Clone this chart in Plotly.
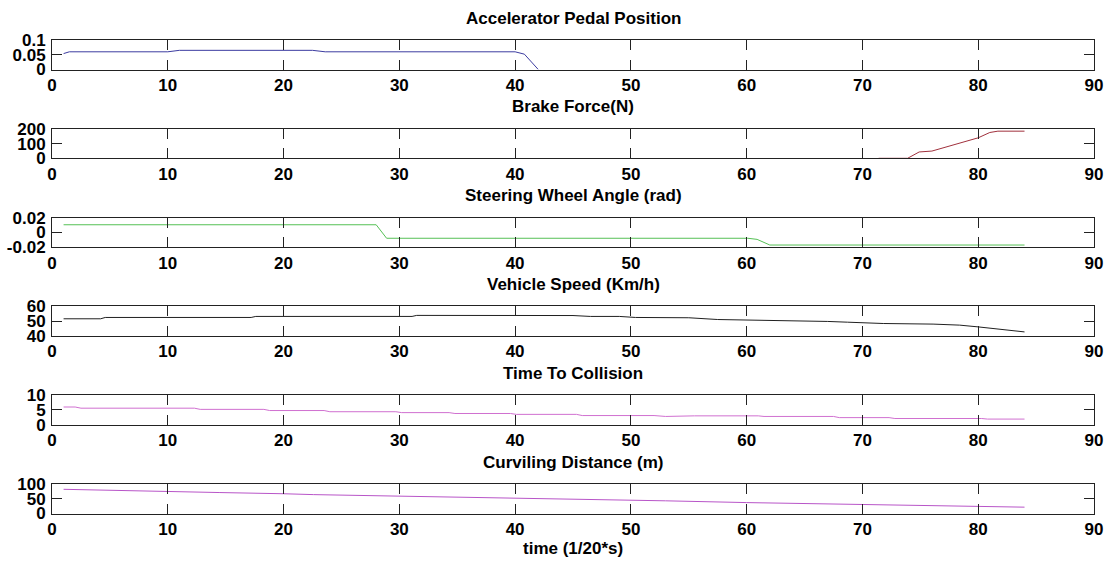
import plotly.graph_objects as go

# time axis ticks shared by all panels
x_ticks = [0, 10, 20, 30, 40, 50, 60, 70, 80, 90]

# Accelerator Pedal Position
t_pedal = [1, 1.5, 10, 11, 22.5, 23.6, 40, 40.8, 42]
pedal = [0.054, 0.060, 0.060, 0.065, 0.065, 0.060, 0.060, 0.052, 0.0]

# Brake Force(N)
t_brake = [71.4, 73.9, 74.9, 76, 80, 81, 81.7, 84]
brake = [0, 0, 43, 49, 139, 175, 184, 184]

# Steering Wheel Angle (rad)
t_steer = [1, 28, 28.9, 60.1, 60.9, 62, 84]
steer = [0.0103, 0.0103, -0.008, -0.008, -0.0095, -0.0172, -0.0172]

# Vehicle Speed (Km/h)
t_speed = [1, 4.2, 4.6, 17.2, 17.6, 31.1, 31.5, 45, 46.5, 49, 50.4, 55, 57.5,
           61, 64.5, 67, 68.7, 71.8, 76.1, 78.4, 80, 84]
speed = [51.6, 51.6, 52.5, 52.5, 53.2, 53.2, 53.9, 53.8, 53.2, 53.2, 52.5, 52.3,
         51.1, 50.8, 50.2, 49.8, 49.3, 48.4, 48.0, 47.3, 46.1, 42.7]

# Time To Collision
t_ttc = [1, 2, 2.5, 12.3, 12.8, 18.3, 18.8, 23.5, 24, 29.7, 30.2, 34.3, 34.8,
         39.6, 40.1, 45.3, 45.8, 52, 53, 55.5, 61, 61.5, 67.5, 68, 72.3, 72.8,
         80.3, 80.8, 84]
ttc = [6.0, 6.0, 5.6, 5.6, 5.2, 5.2, 4.8, 4.8, 4.4, 4.4, 4.1, 4.1, 3.8,
       3.8, 3.5, 3.5, 3.1, 3.1, 2.8, 3.0, 3.0, 2.8, 2.8, 2.4, 2.4, 2.1,
       2.1, 1.9, 1.9]

# Curviling Distance (m)
t_dist = [1, 7.3, 10, 14.5, 20, 22.6, 29.8, 34.5, 37.3, 44.5, 50, 53, 60,
          67.7, 69.8, 75.5, 80, 84]
dist = [82, 78, 75, 71, 67, 64, 59, 56, 54, 49, 45.5, 43, 37,
        32, 30, 25.5, 22, 21.5]

titles = ['Accelerator Pedal Position', 'Brake Force(N)',
          'Steering Wheel Angle (rad)', 'Vehicle Speed (Km/h)',
          'Time To Collision', 'Curviling Distance (m)']
y_tickvals = [[0, 0.05, 0.1], [0, 100, 200], [-0.02, 0, 0.02],
              [40, 50, 60], [0, 5, 10], [0, 50, 100]]
y_ticktext = [['0', '0.05', '0.1'], ['0', '100', '200'], ['-0.02', '0', '0.02'],
              ['40', '50', '60'], ['0', '5', '10'], ['0', '50', '100']]

series = [(t_pedal, pedal, '#3c3ca0'), (t_brake, brake, '#a0303c'),
          (t_steer, steer, '#55c055'), (t_speed, speed, '#202020'),
          (t_ttc, ttc, '#d070d0'), (t_dist, dist, '#b855c8')]

H = 565.0
tick_font = dict(family='Liberation Sans, Arial', size=17, color='black', weight='bold')
title_font = dict(family='Liberation Sans, Arial', size=17, color='black', weight='bold')

fig = go.Figure()
layout = dict(
    width=1106, height=565,
    margin=dict(l=52, r=12, t=0, b=0, autoexpand=False),
    paper_bgcolor='white', plot_bgcolor='white',
    showlegend=False,
    annotations=[],
)

for i, (tx, ty, col) in enumerate(series):
    n = i + 1
    top = 40 + 88.8 * i
    bottom = top + 29.5
    xa = 'x' if n == 1 else 'x%d' % n
    ya = 'y' if n == 1 else 'y%d' % n
    fig.add_trace(go.Scatter(x=tx, y=ty, mode='lines', xaxis=xa, yaxis=ya,
                             line=dict(color=col, width=1)))
    axis_common = dict(showline=True, linecolor='#222', linewidth=1, mirror='ticks',
                       ticks='inside', ticklen=10, tickcolor='#222',
                       showgrid=False, zeroline=False, tickfont=tick_font,
                       automargin=False)
    layout['xaxis' if n == 1 else 'xaxis%d' % n] = dict(
        domain=[0, 1], anchor=ya, range=[0, 90], tickvals=x_ticks,
        **axis_common)
    yv = y_tickvals[i]
    layout['yaxis' if n == 1 else 'yaxis%d' % n] = dict(
        domain=[1 - bottom / H, 1 - top / H], anchor=xa,
        range=[yv[0], yv[-1]], tickvals=yv, ticktext=y_ticktext[i],
        ticklabelstandoff=2, **axis_common)
    layout['annotations'].append(dict(
        text=titles[i], xref='paper', yref='paper', x=0.5,
        y=1 - (top - 22) / H, showarrow=False, yanchor='middle',
        font=title_font))

layout['annotations'].append(dict(
    text='time (1/20*s)', xref='paper', yref='paper', x=0.5,
    y=1 - 548 / H, showarrow=False, yanchor='middle', font=title_font))

fig.update_layout(**layout)
fig.write_html('out.html', config={'displayModeBar': False},
               post_script="document.body.style.margin='0px';")
